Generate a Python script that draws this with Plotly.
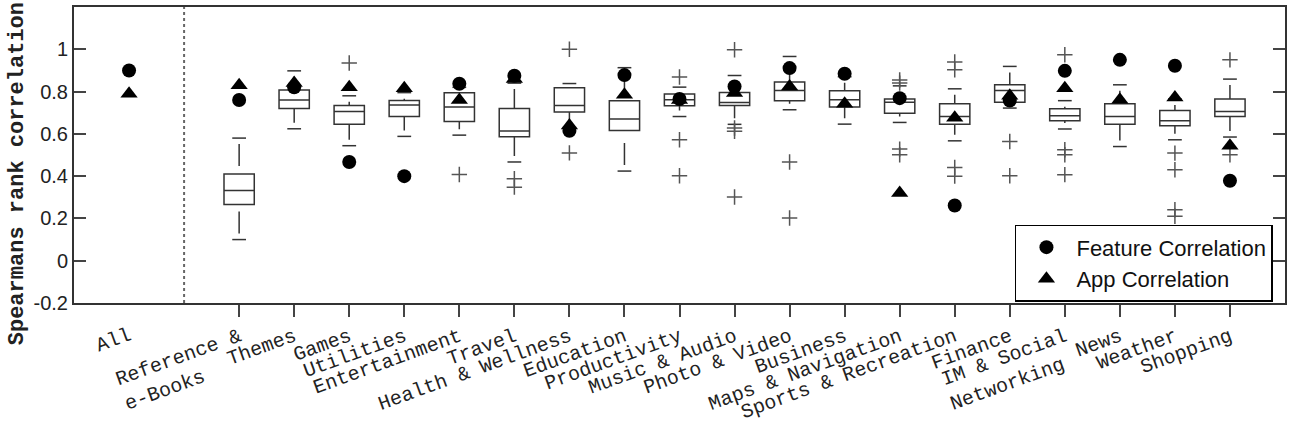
import plotly.graph_objects as go

# ---------------- data ----------------
categories = ["Reference &<br>e-Books", "Themes", "Games", "Utilities", "Entertainment",
              "Travel", "Health & Wellness", "Education", "Productivity", "Music & Audio",
              "Photo & Video", "Business", "Maps & Navigation", "Sports & Recreation",
              "Finance", "IM & Social<br>Networking", "News", "Weather", "Shopping"]

whisker_low = [0.10, 0.624, 0.544, 0.588, 0.594, 0.467, 0.63, 0.424, 0.682, 0.645,
               0.714, 0.646, 0.654, 0.567, 0.722, 0.623, 0.54, 0.572, 0.585]
box_q1 = [0.266, 0.72, 0.646, 0.682, 0.659, 0.586, 0.703, 0.616, 0.733, 0.734,
          0.757, 0.727, 0.698, 0.646, 0.75, 0.662, 0.646, 0.638, 0.682]
box_median = [0.332, 0.76, 0.706, 0.737, 0.727, 0.613, 0.734, 0.67, 0.761, 0.748,
              0.805, 0.761, 0.75, 0.682, 0.805, 0.686, 0.682, 0.662, 0.706]
box_q3 = [0.41, 0.808, 0.734, 0.758, 0.794, 0.72, 0.818, 0.757, 0.788, 0.796,
          0.845, 0.804, 0.765, 0.742, 0.832, 0.719, 0.742, 0.711, 0.765]
whisker_high = [0.58, 0.898, 0.78, 0.795, 0.82, 0.84, 0.838, 0.913, 0.821, 0.876,
                0.966, 0.87, 0.827, 0.813, 0.919, 0.757, 0.832, 0.765, 0.859]
outliers = [[], [], [0.935], [], [0.408], [0.388, 0.348], [1.0, 0.51], [],
            [0.869, 0.572, 0.402], [0.998, 0.628, 0.612, 0.301], [0.467, 0.202], [],
            [0.855, 0.84, 0.528, 0.501], [0.94, 0.903, 0.441, 0.40], [0.564, 0.402],
            [0.974, 0.525, 0.501, 0.407], [], [0.509, 0.43, 0.241, 0.21], [0.95, 0.501]]
feature_corr = [0.76, 0.82, 0.467, 0.40, 0.837, 0.875, 0.615, 0.878, 0.765, 0.824,
                0.911, 0.884, 0.769, 0.261, 0.758, 0.898, 0.95, 0.922, 0.378]
app_corr = [0.83, 0.84, 0.82, 0.816, 0.76, 0.86, 0.64, 0.785, 0.76, 0.793,
            0.824, 0.742, 0.32, 0.676, 0.78, 0.816, 0.761, 0.772, 0.544]
all_feature = 0.90
all_app = 0.79

y_ticks = [-0.2, 0, 0.2, 0.4, 0.6, 0.8, 1]
y_tick_labels = ["-0.2", "0", "0.2", "0.4", "0.6", "0.8", "1"]

# ---------------- figure ----------------
pos = list(range(3, 3 + len(categories)))
tick_text = [c.replace("<br>e-Books", "<br>e-Books\u00a0\u00a0\u00a0\u00a0")
              .replace("<br>Networking", "<br>Networking\u00a0") for c in categories]

LINE = "#333333"
fig = go.Figure()

fig.add_trace(go.Box(x=pos, q1=box_q1, median=box_median, q3=box_q3,
                     lowerfence=box_q1, upperfence=box_q3, width=0.55, whiskerwidth=0,
                     fillcolor="white", line=dict(color=LINE, width=1.5),
                     boxpoints=False, showlegend=False, hoverinfo="skip"))

# dashed whiskers (drawn from cap toward box)
wx, wy = [], []
for p, lo, q1, q3, hi in zip(pos, whisker_low, box_q1, box_q3, whisker_high):
    wx += [p, p, None, p, p, None]
    wy += [hi, q3, None, lo, q1, None]
fig.add_trace(go.Scatter(x=wx, y=wy, mode="lines",
                         line=dict(color=LINE, width=1.5, dash="0px,6px,22px,6px"),
                         showlegend=False, hoverinfo="skip"))
# caps
cx, cy = [], []
for p, lo, hi in zip(pos, whisker_low, whisker_high):
    cx += [p - 0.125, p + 0.125, None, p - 0.125, p + 0.125, None]
    cy += [hi, hi, None, lo, lo, None]
fig.add_trace(go.Scatter(x=cx, y=cy, mode="lines", line=dict(color=LINE, width=1.5),
                         showlegend=False, hoverinfo="skip"))
# outliers
ox, oy = [], []
for p, outs in zip(pos, outliers):
    for v in outs:
        ox.append(p)
        oy.append(v)
fig.add_trace(go.Scatter(x=ox, y=oy, mode="markers",
                         marker=dict(symbol="cross-thin", size=11, color="#555",
                                     line=dict(color="#555", width=1.5)),
                         showlegend=False, hoverinfo="skip"))

fig.add_trace(go.Scatter(x=pos, y=feature_corr, mode="markers", name="Feature Correlation",
                         marker=dict(symbol="circle", size=14, color="black")))
fig.add_trace(go.Scatter(x=pos, y=app_corr, mode="markers", name="App Correlation",
                         marker=dict(symbol="triangle-up", size=15, color="black")))

# "All" column on an overlaying axis (label without tick mark)
fig.add_trace(go.Scatter(x=[1], y=[all_feature], xaxis="x2", mode="markers",
                         marker=dict(symbol="circle", size=14, color="black"),
                         showlegend=False))
fig.add_trace(go.Scatter(x=[1], y=[all_app], xaxis="x2", mode="markers",
                         marker=dict(symbol="triangle-up", size=15, color="black"),
                         showlegend=False))

mono = dict(family="Liberation Mono", size=20, color="#222")

fig.update_layout(
    width=1290, height=432,
    paper_bgcolor="white", plot_bgcolor="white",
    margin=dict(l=74, r=3, t=7, b=129),
    font=dict(family="Liberation Sans", size=20, color="#222"),
    xaxis=dict(range=[0, 22], tickvals=pos, ticktext=tick_text, tickangle=-20,
               tickfont=mono, ticks="outside", ticklen=12, tickwidth=2, tickcolor="#444",
               showline=True, linecolor=LINE, linewidth=2, mirror=True,
               showgrid=False, zeroline=False),
    xaxis2=dict(range=[0, 22], overlaying="x", anchor="y", side="bottom",
                tickvals=[1], ticktext=["All"], tickangle=-20, tickfont=mono,
                ticks="outside", ticklen=12, tickwidth=2, tickcolor="rgba(0,0,0,0)",
                showline=False, showgrid=False, zeroline=False),
    yaxis=dict(range=[-0.2, 1.2], tickvals=y_ticks, ticktext=y_tick_labels,
               ticks="inside", ticklen=12, tickwidth=2, tickcolor="#444",
               tickfont=dict(family="Liberation Sans", size=20, color="#222"),
               showline=True, linecolor=LINE, linewidth=2, mirror="ticks",
               showgrid=False, zeroline=False),
    legend=dict(x=0.777, y=0.264, xanchor="left", yanchor="top",
                bgcolor="white", bordercolor="black", borderwidth=1.5,
                font=dict(family="Liberation Sans", size=22, color="#111"),
                itemwidth=50, tracegroupgap=0),
    shapes=[dict(type="line", xref="x", yref="paper", x0=2, x1=2, y0=0, y1=1,
                 line=dict(color="#666", width=2, dash="dot"))],
    annotations=[dict(text="Spearmans rank correlation", xref="paper", yref="paper",
                      x=-0.046, y=0.436, xanchor="center", yanchor="middle",
                      textangle=-90, showarrow=False,
                      font=dict(family="Liberation Mono", size=22, color="#222",
                                weight="bold"))],
)

fig.write_html("out.html", config={"displayModeBar": False},
               post_script="document.body.style.margin='0';document.body.style.padding='0';")
